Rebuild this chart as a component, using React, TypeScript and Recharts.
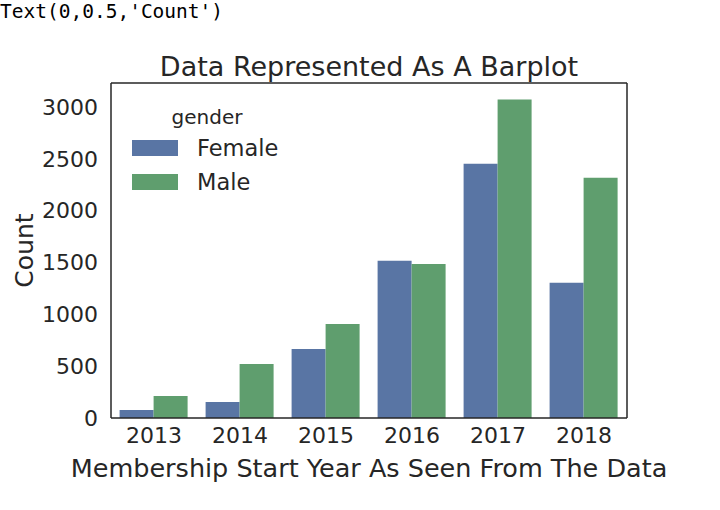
import React from "react";
import { BarChart, Bar, XAxis, YAxis } from "recharts";

const years = ["2013", "2014", "2015", "2016", "2017", "2018"];
const femaleCounts = [77, 154, 666, 1515, 2452, 1303];
const maleCounts = [212, 521, 907, 1486, 3070, 2317];
const yTicks = [0, 500, 1000, 1500, 2000, 2500, 3000];
const legendItems = [
  { name: "Female", color: "#5975a4" },
  { name: "Male", color: "#5f9e6e" },
];

const TEXT = "#262626";
const FONT = "'DejaVu Sans', sans-serif";

const data = years.map((year, i) => ({
  year,
  Female: femaleCounts[i],
  Male: maleCounts[i],
}));

const LegendBox = () => (
  <div
    style={{
      position: "absolute",
      left: 132,
      top: 103,
      fontFamily: FONT,
      color: TEXT,
    }}
  >
    <div style={{ fontSize: 20, lineHeight: "28px", textAlign: "center", width: 150 }}>gender</div>
    {legendItems.map((item) => (
      <div key={item.name} style={{ display: "flex", alignItems: "center", height: 34 }}>
        <div style={{ width: 46, height: 16, background: item.color, marginRight: 19 }} />
        <span style={{ fontSize: 22.5 }}>{item.name}</span>
      </div>
    ))}
  </div>
);

export default function App() {
  return (
    <div
      style={{
        position: "absolute",
        left: 0,
        top: 0,
        width: 720,
        height: 510,
        background: "#ffffff",
        fontFamily: FONT,
      }}
    >
      <div
        style={{
          position: "absolute",
          left: 0,
          top: 0,
          fontFamily: "'DejaVu Sans Mono', monospace",
          fontSize: 19.5,
          color: "#000",
        }}
      >
        Text(0,0.5,'Count')
      </div>
      <div
        style={{
          position: "absolute",
          left: 111,
          width: 516,
          top: 51,
          textAlign: "center",
          fontSize: 27,
          color: TEXT,
        }}
      >
        Data Represented As A Barplot
      </div>
      <BarChart
        width={720}
        height={510}
        data={data}
        margin={{ top: 82, right: 92, bottom: 28, left: 41 }}
        barCategoryGap="10%"
        barGap={0}
      >
        <XAxis
          dataKey="year"
          axisLine={{ stroke: TEXT, strokeWidth: 1.5 }}
          tickLine={false}
          tickSize={6}
          tickMargin={3}
          height={64}
          tick={{ fill: TEXT, fontSize: 22, fontFamily: FONT }}
          label={{
            value: "Membership Start Year As Seen From The Data",
            position: "insideBottom",
            offset: 5,
            fill: TEXT,
            fontSize: 25.5,
            fontFamily: FONT,
          }}
        />
        <XAxis
          xAxisId="top"
          orientation="top"
          dataKey="year"
          height={1}
          tick={false}
          tickLine={false}
          axisLine={{ stroke: TEXT, strokeWidth: 1.5 }}
        />
        <YAxis
          domain={[0, 3230]}
          ticks={yTicks}
          width={70}
          axisLine={{ stroke: TEXT, strokeWidth: 1.5 }}
          tickLine={false}
          tickSize={6}
          tickMargin={7}
          tick={{ fill: TEXT, fontSize: 22, fontFamily: FONT }}
          label={{
            value: "Count",
            angle: -90,
            position: "insideLeft",
            offset: -17,
            fill: TEXT,
            fontSize: 25,
            fontFamily: FONT,
            style: { textAnchor: "middle" },
          }}
        />
        <YAxis
          yAxisId="right"
          orientation="right"
          domain={[0, 3230]}
          width={1}
          tick={false}
          tickLine={false}
          axisLine={{ stroke: TEXT, strokeWidth: 1.5 }}
        />
        <Bar dataKey="Female" fill={legendItems[0].color} isAnimationActive={false} />
        <Bar dataKey="Male" fill={legendItems[1].color} isAnimationActive={false} />
      </BarChart>
      <LegendBox />
    </div>
  );
}
